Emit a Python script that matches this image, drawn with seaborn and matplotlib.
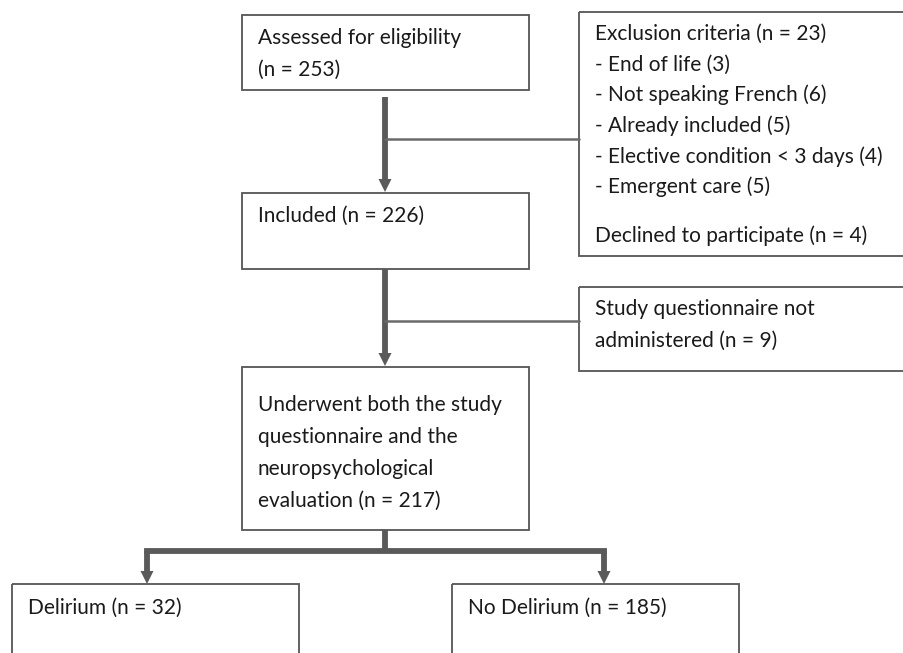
import matplotlib
matplotlib.use("Agg")
import matplotlib.pyplot as plt
import seaborn as sns
from matplotlib.patches import Rectangle, Polygon

# ==========================
# Flowchart content
# ==========================

assessed_lines = ["Assessed for eligibility", "(n = 253)"]
exclusion_lines = [
    "Exclusion criteria (n = 23)",
    "- End of life (3)",
    "- Not speaking French (6)",
    "- Already included (5)",
    "- Elective condition < 3 days (4)",
    "- Emergent care (5)",
    "",
    "Declined to participate (n = 4)",
]
included_lines = ["Included (n = 226)"]
not_admin_lines = ["Study questionnaire not", "administered (n = 9)"]
underwent_lines = [
    "Underwent both the study",
    "questionnaire and the",
    "neuropsychological",
    "evaluation (n = 217)",
]
delirium_lines = ["Delirium (n = 32)"]
no_delirium_lines = ["No Delirium (n = 185)"]

# ==========================
# Layout (pixel coordinates, y down)
# ==========================

W, H = 904, 653
EDGE = "#555555"
ARROW = "#5a5a5a"

sns.set_theme(style="white")
plt.rcParams["font.family"] = ["Lato", "DejaVu Sans"]

fig = plt.figure(figsize=(W / 100, H / 100), dpi=100)
ax = fig.add_axes([0, 0, 1, 1])
ax.set_xlim(0, W)
ax.set_ylim(H, 0)
ax.axis("off")


def box(x0, y0, x1, y1, lines, first_y, gap=32, pad=16):
    ax.add_patch(Rectangle((x0, y0), x1 - x0, y1 - y0, fill=False,
                           edgecolor=EDGE, lw=1.3, clip_on=True))
    y = first_y
    for txt in lines:
        if txt == "":
            # blank line in the source is a bit shorter than a full line
            y += 0.6 * gap
            continue
        ax.text(x0 + pad, y, txt, fontsize=15, color="#1a1a1a",
                va="center", ha="left")
        y += gap


def arrow(x, y0, y1, lw=4.2):
    head = 13
    ax.plot([x, x], [y0, y1 - head + 1], color=ARROW, lw=lw,
            solid_capstyle="butt")
    ax.add_patch(Polygon([(x - 6.5, y1 - head), (x + 6.5, y1 - head), (x, y1)],
                         closed=True, color=ARROW, lw=0))


box(242, 15, 529, 90, assessed_lines, 38)
box(579, 12, 910, 256, exclusion_lines, 34, gap=30.6)
box(242, 193, 529, 269, included_lines, 216)
box(579, 287, 910, 371, not_admin_lines, 309)
box(242, 367, 529, 530, underwent_lines, 405)
box(12, 584, 299, 670, delirium_lines, 608)
box(452, 584, 739, 670, no_delirium_lines, 608)

# main arrows
arrow(385, 97, 192)
arrow(385, 269, 366)

# side branches
ax.plot([385, 579], [139, 139], color="#6a6a6a", lw=1.8)
ax.plot([385, 579], [321, 321], color="#6a6a6a", lw=1.8)

# split to outcome groups
ax.plot([385, 385], [530, 551], color=ARROW, lw=4.2, solid_capstyle="butt")
ax.plot([147, 604], [551, 551], color=ARROW, lw=4.2, solid_capstyle="projecting")
arrow(147, 551, 584)
arrow(604, 551, 584)

fig.savefig("out.png", dpi=100)
